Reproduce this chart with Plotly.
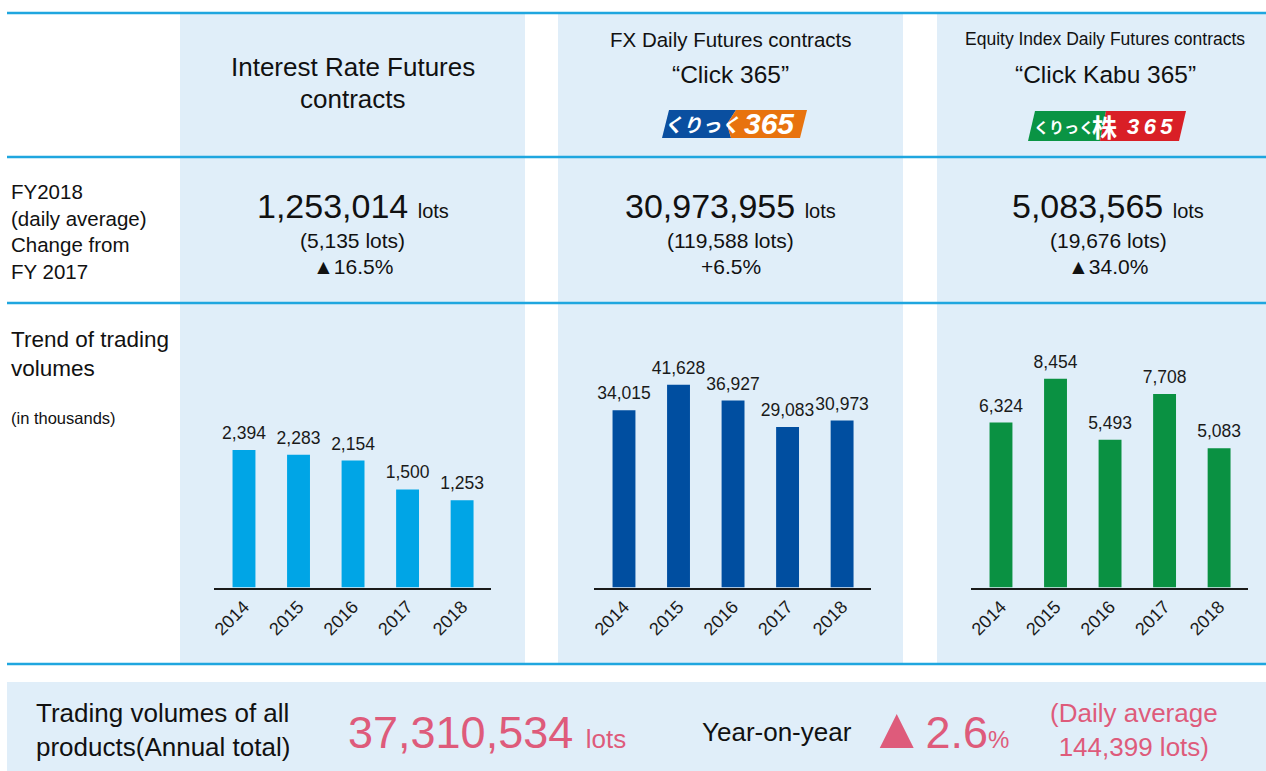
import plotly.graph_objects as go

W, H = 1266, 771

# ---------------- data ----------------
years = ["2014", "2015", "2016", "2017", "2018"]
interest_rate = [2394, 2283, 2154, 1500, 1253]
fx_click365 = [34015, 41628, 36927, 29083, 30973]
equity_kabu365 = [6324, 8454, 5493, 7708, 5083]

fy2018_totals = ["1,253,014", "30,973,955", "5,083,565"]
fy2018_daily = ["(5,135 lots)", "(119,588 lots)", "(19,676 lots)"]
fy2018_change = ["▲16.5%", "+6.5%", "▲34.0%"]

row_label_fy = "FY2018<br>(daily average)<br>Change from<br>FY 2017"
row_label_trend = "Trend of trading<br>volumes"
row_label_unit = "(in thousands)"

total_label = "Trading volumes of all<br>products(Annual total)"
total_annual = "37,310,534"
total_yoy_label = "Year-on-year"
total_yoy = "2.6"
total_daily = "144,399"

# ---------------- style ----------------
FONT = "Liberation Sans, Arial, sans-serif"
CJK = "Noto Sans CJK JP, sans-serif"
LINE = "#1fa6df"
PANEL = "#e0eef9"
PINK = "#de5b7b"
TXT = "#111111"


def X(px):
    return px / W


def Y(py):
    return 1 - py / H


def poly(points):
    return "M " + " L ".join(f"{X(x):.5f},{Y(y):.5f}" for x, y in points) + " Z"


fig = go.Figure()
shapes = []
ann = []

# panels
for x0, x1 in [(180, 525), (558, 903), (937, 1266)]:
    shapes.append(dict(type="rect", xref="paper", yref="paper", x0=X(x0), x1=X(x1),
                       y0=Y(665), y1=Y(13), fillcolor=PANEL, line=dict(width=0), layer="below"))
# bottom band
shapes.append(dict(type="rect", xref="paper", yref="paper", x0=X(7), x1=X(1266),
                   y0=Y(771), y1=Y(682), fillcolor=PANEL, line=dict(width=0), layer="below"))
# horizontal rules
for yy in [13, 157, 303, 664]:
    shapes.append(dict(type="line", xref="paper", yref="paper", x0=X(7), x1=X(1266),
                       y0=Y(yy), y1=Y(yy), line=dict(color=LINE, width=2.5), layer="above"))

# logos
shapes.append(dict(type="path", xref="paper", yref="paper", layer="above",
                   path=poly([(669, 110), (736, 110), (727, 124), (731, 138), (662, 138)]),
                   fillcolor="#0a4fa0", line=dict(width=0)))
shapes.append(dict(type="path", xref="paper", yref="paper", layer="above",
                   path=poly([(736, 110), (807, 110), (800, 138), (731, 138), (727, 124)]),
                   fillcolor="#e8730e", line=dict(width=0)))
shapes.append(dict(type="path", xref="paper", yref="paper", layer="above",
                   path=poly([(1035, 111), (1106, 111), (1100, 141), (1028, 141)]),
                   fillcolor="#0a9444", line=dict(width=0)))
shapes.append(dict(type="path", xref="paper", yref="paper", layer="above",
                   path=poly([(1106, 111), (1186, 111), (1179, 141), (1100, 141)]),
                   fillcolor="#d91f26", line=dict(width=0)))


def text(x, y, s, size, color=TXT, family=FONT, xanchor="center", align="center", yanchor="middle"):
    ann.append(dict(x=X(x), y=Y(y), xref="paper", yref="paper", text=s, showarrow=False,
                    xanchor=xanchor, yanchor=yanchor, align=align,
                    font=dict(family=family, size=size, color=color)))


# headers
text(352.5, 67, "Interest Rate Futures", 26)
text(352.5, 99, "contracts", 26)
text(731, 39, "FX Daily Futures contracts", 20.5)
text(731, 74, "“Click 365”", 24.5)
text(1105, 39, "Equity Index Daily Futures contracts", 17.5)
text(1105, 74, "“Click Kabu 365”", 24.5)

# logo texts
text(702, 124, "<b><i>くりっく</i></b>", 19, color="white", family=CJK)
text(769, 124, "<b><i>365</i></b>", 30, color="white")
text(1064, 127, "<b>くりっく</b>", 15, color="white", family=CJK)
text(1104, 126, "<b>株</b>", 25, color="white", family=CJK)
text(1150, 127, "<b><i>3\u20096\u20095</i></b>", 22, color="white")

# left row labels
text(9, 231, row_label_fy, 20.5, xanchor="left", align="left")
text(9, 354, row_label_trend, 22.5, xanchor="left", align="left")
text(9, 418, row_label_unit, 16.5, xanchor="left", align="left")

# middle row numbers
for cx, tot, daily, chg in zip([352.5, 731, 1108], fy2018_totals, fy2018_daily, fy2018_change):
    text(cx, 206, f"{tot} <span style='font-size:20px'>lots</span>", 34)
    text(cx, 240, daily, 21)
    text(cx, 266, chg, 21)

# bottom band
text(34, 730, total_label, 26, xanchor="left", align="left")
text(346, 732, f"{total_annual} <span style='font-size:26px'>lots</span>", 45,
     color=PINK, xanchor="left")
text(700, 732, total_yoy_label, 26, xanchor="left")
text(866, 727.5,
     f"<span style='font-size:58px'>▲</span>{total_yoy}<span style='font-size:24px'>%</span>",
     45, color=PINK, xanchor="left")
text(1134, 730, f"(Daily average<br>{total_daily} lots)", 26, color=PINK)

# ---------------- bar charts ----------------
charts = [
    dict(vals=interest_rate, color="#00a5e6", xd=(214, 491), floor=-726, ceil=5343),
    dict(vals=fx_click365, color="#004ea0", xd=(594, 871), floor=-18772, ceil=60936),
    dict(vals=equity_kabu365, color="#0a9142", xd=(971, 1248), floor=-1667, ceil=11296),
]
Y_TOP, Y_BASE = 320, 587.5

for i, c in enumerate(charts, start=1):
    sfx = "" if i == 1 else str(i)
    fig.add_trace(go.Bar(
        x=years, y=[v - c["floor"] for v in c["vals"]], base=c["floor"],
        marker=dict(color=c["color"], line=dict(width=0)), width=0.42,
        xaxis="x" + sfx, yaxis="y" + sfx, showlegend=False, hoverinfo="skip",
    ))
    # value labels, placed at the top of each bar (axis value = data value)
    fig.add_trace(go.Scatter(
        x=years, y=c["vals"], mode="text+markers", text=[f"{v:,}" for v in c["vals"]],
        textposition="top center", marker=dict(size=9, opacity=0),
        textfont=dict(family=FONT, size=17.5, color="#1a1a1a"), cliponaxis=False,
        xaxis="x" + sfx, yaxis="y" + sfx, showlegend=False, hoverinfo="skip",
    ))
    fig.layout["xaxis" + sfx] = dict(
        domain=[X(c["xd"][0]), X(c["xd"][1])], anchor="y" + sfx, range=[-0.55, 4.53],
        type="category", showline=True, linecolor="#1a1a1a", linewidth=1.5,
        showgrid=False, zeroline=False, ticks="", tickangle=-45, automargin=False,
        tickfont=dict(family=FONT, size=18, color="#1a1a1a"), fixedrange=True,
    )
    fig.layout["yaxis" + sfx] = dict(
        domain=[Y(Y_BASE), Y(Y_TOP)], anchor="x" + sfx, range=[c["floor"], c["ceil"]],
        showticklabels=False, showline=False, ticks="", automargin=False,
        showgrid=False, zeroline=False, fixedrange=True,
    )

fig.update_layout(
    template="none",
    width=W, height=H, autosize=False, margin=dict(l=0, r=0, t=0, b=0, pad=0),
    paper_bgcolor="white", plot_bgcolor="rgba(0,0,0,0)",
    shapes=shapes, annotations=ann,
    font=dict(family=FONT, color=TXT),
)

fig.write_html(
    "out.html", config={"displayModeBar": False},
    post_script=("document.documentElement.style.margin='0px';"
                 "document.documentElement.style.overflow='hidden';"
                 "document.body.style.margin='0px';document.body.style.overflow='hidden';"),
)
